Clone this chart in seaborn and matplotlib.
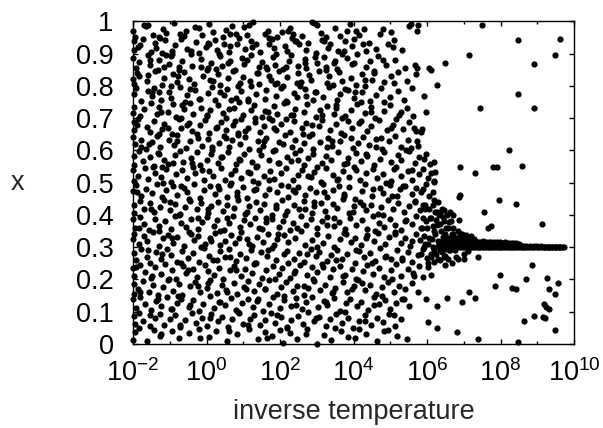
import pandas as pd
import matplotlib.pyplot as plt
import seaborn as sns
from matplotlib.ticker import FixedLocator, NullFormatter

# points as (log10 of inverse temperature, x)
cloud_top = [
    (-1.99, .97), (-1.94, .952), (-1.71, .99), (-1.66, .986), (-1.45, .958), (-1.18, .977), (-1.09, .963),
    (-0.88, .995), (-0.62, .954), (-0.57, .969), (-0.31, .982), (-0.12, .958), (0.08, .991), (0.17, .966),
    (0.44, .953), (0.52, .975), (0.81, .96), (1.03, .984), (1.09, .957), (1.27, .997), (1.58, .962),
    (1.66, .97), (1.93, .951), (2.26, .979), (2.35, .96), (2.61, .956), (2.86, .998), (2.92, .994),
    (3.11, .965), (3.24, .952), (3.49, .981), (3.83, .97), (3.9, .993), (4.16, .957), (4.28, .976),
    (4.71, .961), (4.79, .978), (5.03, .968), (5.5, .986), (5.56, .992), (-1.3, .951), (0.68, .985),
    (2.05, .968), (3.64, .955),
    (-1.98, .939), (-1.97, .912), (-1.8, .927), (-1.73, .945), (-1.52, .904), (-1.41, .933), (-1.37, .918),
    (-1.12, .942), (-0.93, .909), (-0.86, .928), (-0.7, .947), (-0.52, .915), (-0.28, .936), (-0.21, .903),
    (-0.02, .921), (0.22, .944), (0.29, .911), (0.47, .93), (0.6, .905), (0.64, .923), (0.88, .949),
    (1.05, .914), (1.2, .939), (1.24, .92), (1.46, .906), (1.71, .931), (1.79, .946), (1.84, .917),
    (2.13, .925), (2.19, .908), (2.44, .941), (2.53, .929), (2.72, .913), (2.76, .934), (2.99, .902),
    (3.15, .944), (3.31, .919), (3.37, .93), (3.58, .91), (3.76, .938), (3.95, .924), (4.02, .947),
    (4.33, .907), (4.41, .933), (4.62, .916), (4.94, .929), (5.1, .943), (5.31, .911), (0.05, .933),
    (-1.22, .901), (2.33, .949),
    (-1.99, .888), (-1.91, .856), (-1.84, .873), (-1.58, .895), (-1.55, .866), (-1.33, .851), (-1.29, .881),
    (-1.02, .869), (-0.96, .892), (-0.74, .858), (-0.66, .876), (-0.43, .899), (-0.39, .863), (-0.14, .884),
    (0.03, .855), (0.11, .872), (0.36, .893), (0.41, .861), (0.63, .879), (0.77, .851), (0.97, .886),
    (1.01, .867), (1.22, .897), (1.44, .858), (1.52, .874), (1.8, .889), (1.86, .865), (2.07, .853),
    (2.24, .878), (2.29, .896), (2.5, .862), (2.67, .883), (2.71, .857), (3.0, .871), (3.19, .891),
    (3.25, .86), (3.5, .877), (3.56, .854), (3.81, .887), (3.97, .868), (4.1, .898), (4.35, .859),
    (4.46, .876), (4.67, .893), (4.88, .866), (5.12, .882), (5.4, .857), (5.68, .866), (5.73, .855),
    (-1.1, .897), (0.25, .852), (1.65, .854), (3.7, .899),
    (-1.99, .823), (-1.96, .807), (-1.9, .841), (-1.63, .816), (-1.59, .834), (-1.4, .848), (-1.21, .803),
    (-1.15, .826), (-0.91, .838), (-0.81, .811), (-0.6, .844), (-0.47, .822), (-0.33, .806), (-0.09, .831),
    (0.0, .849), (0.19, .814), (0.32, .836), (0.37, .802), (0.58, .825), (0.72, .845), (0.9, .809),
    (1.0, .829), (1.17, .817), (1.38, .84), (1.42, .805), (1.69, .832), (1.76, .82), (1.97, .846),
    (2.09, .801), (2.2, .827), (2.48, .839), (2.58, .812), (2.8, .833), (2.83, .818), (3.05, .847),
    (3.28, .808), (3.33, .83), (3.6, .843), (3.69, .815), (3.93, .826), (4.07, .804), (4.24, .837),
    (4.51, .819), (4.57, .848), (4.82, .811), (5.01, .831), (5.22, .842), (5.45, .815), (-0.75, .849),
    (1.86, .807), (3.45, .803),
    (-1.97, .776), (-1.92, .795), (-1.78, .753), (-1.6, .785), (-1.47, .768), (-1.43, .793), (-1.24, .757),
    (-1.02, .781), (-0.97, .764), (-0.73, .797), (-0.58, .751), (-0.52, .773), (-0.3, .788), (-0.2, .76),
    (0.04, .779), (0.15, .797), (0.24, .755), (0.48, .771), (0.56, .79), (0.79, .762), (0.94, .784),
    (1.13, .753), (1.2, .799), (1.36, .775), (1.58, .761), (1.63, .787), (1.89, .769), (2.02, .794),
    (2.15, .752), (2.38, .777), (2.46, .765), (2.69, .792), (2.9, .756), (2.95, .78), (3.18, .767),
    (3.34, .796), (3.55, .758), (3.62, .774), (3.86, .789), (4.0, .762), (4.22, .781), (4.44, .753),
    (4.61, .772), (4.75, .794), (4.98, .765), (5.2, .786), (5.38, .758), (5.6, .795), (-1.3, .78),
    (0.66, .756), (2.55, .799), (4.3, .799),
]

cloud_upper = [
    (-1.99, .715), (-1.98, .736), (-1.81, .707), (-1.7, .729), (-1.5, .746), (-1.36, .712), (-1.29, .735),
    (-1.06, .72), (-0.92, .743), (-0.83, .704), (-0.61, .728), (-0.44, .747), (-0.37, .713), (-0.15, .733),
    (0.01, .706), (0.09, .724), (0.31, .741), (0.44, .716), (0.53, .701), (0.76, .731), (0.89, .749),
    (0.99, .71), (1.21, .727), (1.28, .742), (1.5, .705), (1.6, .721), (1.83, .737), (1.92, .714),
    (2.11, .748), (2.3, .709), (2.42, .729), (2.65, .719), (2.74, .744), (2.97, .703), (3.1, .726),
    (3.27, .739), (3.47, .712), (3.53, .733), (3.78, .707), (3.92, .725), (4.09, .745), (4.3, .715),
    (4.47, .736), (4.58, .702), (4.83, .723), (5.0, .741), (5.25, .711), (5.45, .731), (5.63, .708),
    (-0.7, .7), (1.7, .702), (4.2, .749),
    (-1.98, .688), (-1.96, .664), (-1.87, .699), (-1.62, .674), (-1.53, .656), (-1.44, .691), (-1.2, .668),
    (-1.16, .683), (-0.95, .652), (-0.76, .697), (-0.7, .671), (-0.48, .686), (-0.4, .66), (-0.18, .678),
    (-0.03, .695), (0.06, .655), (0.28, .672), (0.4, .689), (0.52, .663), (0.71, .68), (0.86, .653),
    (0.93, .698), (1.14, .669), (1.33, .687), (1.45, .658), (1.56, .676), (1.79, .694), (1.9, .662),
    (2.04, .681), (2.27, .657), (2.37, .692), (2.59, .67), (2.7, .684), (2.88, .651), (3.07, .675),
    (3.13, .696), (3.36, .664), (3.51, .682), (3.66, .654), (3.84, .69), (3.97, .67), (4.15, .686),
    (4.38, .659), (4.48, .677), (4.7, .695), (4.9, .663), (5.08, .68), (5.16, .699), (5.35, .667),
    (5.52, .688), (5.65, .671), (5.84, .658), (-1.3, .652), (2.15, .698),
    (-1.99, .641), (-1.95, .619), (-1.77, .633), (-1.66, .604), (-1.49, .626), (-1.34, .646), (-1.27, .612),
    (-1.01, .631), (-0.88, .617), (-0.8, .649), (-0.57, .607), (-0.46, .628), (-0.24, .64), (-0.11, .614),
    (0.04, .635), (0.16, .602), (0.35, .624), (0.47, .645), (0.62, .611), (0.7, .632), (0.92, .62),
    (1.06, .643), (1.16, .606), (1.39, .629), (1.55, .615), (1.63, .638), (1.85, .603), (1.97, .625),
    (2.14, .647), (2.33, .61), (2.42, .634), (2.66, .622), (2.79, .644), (2.91, .605), (3.09, .627),
    (3.3, .639), (3.41, .613), (3.62, .63), (3.73, .648), (3.98, .608), (4.11, .623), (4.26, .641),
    (4.41, .616), (4.6, .636), (4.77, .604), (4.97, .628), (5.12, .645), (5.3, .612), (5.48, .633),
    (5.57, .609), (5.73, .628), (0.85, .649), (2.55, .601),
    (-1.98, .556), (-1.96, .583), (-1.83, .597), (-1.74, .566), (-1.55, .579), (-1.43, .552), (-1.31, .591),
    (-1.17, .571), (-1.05, .559), (-0.87, .586), (-0.71, .599), (-0.63, .563), (-0.41, .577), (-0.27, .594),
    (-0.17, .554), (0.01, .569), (0.11, .588), (0.32, .561), (0.43, .58), (0.58, .596), (0.8, .557),
    (0.88, .574), (1.03, .59), (1.23, .565), (1.37, .553), (1.48, .585), (1.7, .572), (1.81, .598),
    (1.94, .561), (2.18, .581), (2.31, .567), (2.4, .593), (2.64, .555), (2.76, .578), (2.9, .589),
    (3.13, .562), (3.24, .583), (3.39, .57), (3.59, .596), (3.74, .558), (3.86, .576), (4.06, .591),
    (4.2, .566), (4.37, .582), (4.55, .555), (4.71, .573), (4.82, .594), (5.02, .564), (5.22, .587),
    (5.3, .571), (5.51, .598), (5.68, .56), (5.79, .581), (5.97, .59), (6.07, .557),
    (-1.99, .538), (-1.98, .506), (-1.86, .521), (-1.67, .547), (-1.58, .511), (-1.4, .531), (-1.25, .518),
    (-1.11, .543), (-0.98, .503), (-0.84, .526), (-0.66, .539), (-0.52, .514), (-0.37, .548), (-0.3, .529),
    (-0.06, .507), (0.07, .535), (0.18, .52), (0.39, .545), (0.5, .51), (0.67, .528), (0.77, .541),
    (0.95, .516), (1.12, .533), (1.26, .504), (1.35, .548), (1.56, .522), (1.72, .537), (1.84, .512),
    (2.03, .53), (2.16, .545), (2.35, .508), (2.49, .525), (2.6, .54), (2.84, .517), (2.93, .534),
    (3.11, .502), (3.26, .546), (3.43, .523), (3.57, .511), (3.72, .536), (3.89, .519), (4.0, .549),
    (4.19, .507), (4.33, .531), (4.52, .542), (4.63, .514), (4.81, .527), (5.01, .505), (5.1, .544),
    (5.29, .52), (5.47, .536), (5.6, .509), (5.77, .526), (5.88, .542), (6.02, .515), (6.12, .53),
    (6.18, .504), (-1.2, .55),
]

cloud_lower = [
    (-1.99, .474), (-1.92, .492), (-1.79, .458), (-1.65, .481), (-1.49, .467), (-1.36, .497), (-1.2, .455),
    (-1.1, .479), (-0.92, .489), (-0.81, .462), (-0.6, .485), (-0.53, .471), (-0.33, .496), (-0.19, .453),
    (-0.06, .477), (0.1, .49), (0.24, .466), (0.34, .482), (0.55, .457), (0.63, .494), (0.84, .47),
    (0.98, .486), (1.09, .452), (1.29, .476), (1.41, .499), (1.6, .463), (1.69, .481), (1.91, .47),
    (2.02, .493), (2.22, .455), (2.36, .478), (2.5, .488), (2.69, .461), (2.81, .484), (2.97, .472),
    (3.16, .497), (3.27, .456), (3.44, .479), (3.6, .491), (3.75, .464), (3.87, .486), (4.04, .451),
    (4.23, .474), (4.32, .496), (4.5, .46), (4.72, .483), (4.8, .469), (4.99, .493), (5.17, .458),
    (5.26, .48), (5.41, .489), (5.58, .465), (5.71, .483), (5.83, .471), (5.97, .495), (6.06, .46),
    (6.16, .47),
    (-1.98, .43), (-1.96, .405), (-1.82, .443), (-1.71, .418), (-1.53, .436), (-1.44, .409), (-1.26, .426),
    (-1.15, .448), (-0.99, .414), (-0.86, .433), (-0.71, .402), (-0.59, .424), (-0.45, .444), (-0.26, .419),
    (-0.15, .437), (0.03, .406), (0.12, .428), (0.3, .441), (0.46, .412), (0.57, .432), (0.74, .421),
    (0.86, .446), (1.04, .404), (1.15, .427), (1.34, .439), (1.46, .416), (1.57, .435), (1.78, .401),
    (1.9, .423), (2.06, .447), (2.2, .413), (2.38, .431), (2.52, .42), (2.66, .443), (2.86, .407),
    (2.92, .429), (3.12, .438), (3.22, .411), (3.44, .434), (3.56, .422), (3.71, .449), (3.89, .405),
    (4.02, .427), (4.17, .44), (4.33, .415), (4.48, .432), (4.66, .403), (4.74, .425), (4.93, .445),
    (5.07, .418), (5.22, .436), (5.38, .408), (5.52, .428), (5.66, .442), (5.8, .414), (5.94, .431),
    (6.05, .42), (6.18, .445), (6.27, .41), (6.36, .405),
    (-1.99, .386), (-1.94, .361), (-1.8, .395), (-1.69, .372), (-1.57, .353), (-1.41, .389), (-1.28, .367),
    (-1.14, .381), (-0.96, .357), (-0.87, .397), (-0.69, .374), (-0.55, .363), (-0.43, .388), (-0.23, .356),
    (-0.12, .379), (0.02, .393), (0.2, .366), (0.28, .384), (0.47, .354), (0.6, .376), (0.72, .398),
    (0.92, .362), (1.02, .383), (1.18, .371), (1.32, .392), (1.51, .358), (1.62, .378), (1.78, .387),
    (1.96, .364), (2.08, .382), (2.26, .353), (2.35, .375), (2.56, .396), (2.7, .368), (2.83, .386),
    (3.02, .359), (3.13, .38), (3.29, .394), (3.47, .365), (3.6, .377), (3.78, .355), (3.9, .39),
    (4.07, .37), (4.24, .383), (4.37, .357), (4.52, .397), (4.7, .374), (4.82, .362), (5.0, .388),
    (5.13, .369), (5.3, .352), (5.44, .384), (5.59, .373), (5.7, .396), (5.84, .36), (5.98, .38),
    (6.08, .39), (6.17, .365), (6.25, .385), (6.36, .372), (6.44, .395), (6.52, .36), (6.6, .378),
    (-1.99, .327), (-1.97, .342), (-1.83, .309), (-1.7, .334), (-1.61, .318), (-1.46, .346), (-1.3, .305),
    (-1.19, .328), (-1.04, .339), (-0.9, .314), (-0.79, .331), (-0.62, .303), (-0.49, .347), (-0.35, .322),
    (-0.22, .336), (-0.03, .311), (0.09, .329), (0.22, .344), (0.38, .306), (0.49, .32), (0.66, .337),
    (0.78, .313), (0.95, .348), (1.1, .326), (1.25, .304), (1.38, .333), (1.53, .317), (1.66, .342),
    (1.83, .308), (1.92, .325), (2.12, .338), (2.22, .315), (2.41, .33), (2.58, .349), (2.68, .307),
    (2.88, .321), (3.0, .341), (3.18, .312), (3.31, .334), (3.47, .302), (3.63, .324), (3.74, .345),
    (3.93, .316), (4.05, .329), (4.2, .307), (4.37, .338), (4.55, .32), (4.68, .343), (4.85, .31),
    (4.96, .332), (5.13, .347), (5.28, .314), (5.4, .328), (5.55, .305), (5.69, .34), (5.81, .322),
    (5.93, .335), (6.04, .31), (6.14, .325), (6.23, .342), (6.33, .315), (6.43, .333), (6.52, .306),
    (6.61, .328), (6.7, .34),
    (-1.98, .281), (-1.93, .259), (-1.77, .293), (-1.63, .27), (-1.54, .252), (-1.37, .286), (-1.25, .264),
    (-1.08, .296), (-0.97, .277), (-0.8, .255), (-0.68, .289), (-0.51, .268), (-0.38, .282), (-0.2, .253),
    (-0.08, .298), (0.07, .274), (0.17, .261), (0.36, .287), (0.49, .271), (0.61, .294), (0.8, .257),
    (0.9, .279), (1.07, .266), (1.2, .291), (1.35, .252), (1.47, .284), (1.64, .273), (1.79, .297),
    (1.88, .26), (2.1, .278), (2.2, .289), (2.39, .265), (2.52, .282), (2.64, .254), (2.83, .295),
    (2.98, .272), (3.07, .285), (3.28, .258), (3.4, .276), (3.56, .292), (3.7, .263), (3.82, .28),
    (4.03, .251), (4.15, .288), (4.29, .269), (4.45, .283), (4.59, .256), (4.73, .299), (4.88, .274),
    (5.03, .262), (5.19, .29), (5.32, .268), (5.48, .284), (5.6, .255), (5.76, .277), (5.89, .293),
    (6.0, .266), (6.1, .28), (6.2, .29), (6.3, .262), (6.4, .285), (6.5, .272), (6.6, .29),
]

cloud_bottom = [
    (-1.99, .236), (-1.96, .212), (-1.82, .245), (-1.68, .223), (-1.5, .205), (-1.39, .239), (-1.23, .217),
    (-1.13, .248), (-0.94, .229), (-0.83, .203), (-0.64, .241), (-0.57, .219), (-0.36, .233), (-0.25, .208),
    (-0.05, .246), (0.05, .226), (0.2, .214), (0.33, .237), (0.46, .202), (0.64, .228), (0.75, .243),
    (0.93, .21), (1.05, .232), (1.23, .221), (1.3, .247), (1.52, .206), (1.61, .23), (1.8, .242),
    (1.96, .216), (2.05, .235), (2.27, .204), (2.4, .227), (2.55, .244), (2.73, .213), (2.86, .238),
    (3.01, .222), (3.15, .249), (3.35, .207), (3.45, .231), (3.63, .243), (3.77, .215), (3.95, .234),
    (4.06, .201), (4.25, .225), (4.36, .245), (4.54, .218), (4.7, .236), (4.84, .209), (5.02, .229),
    (5.16, .247), (5.3, .212), (5.49, .233), (5.62, .221), (5.79, .242), (5.9, .208), (6.02, .24),
    (6.1, .215),
    (-1.98, .186), (-1.97, .156), (-1.86, .171), (-1.73, .194), (-1.57, .16), (-1.46, .182), (-1.31, .153),
    (-1.18, .176), (-1.06, .197), (-0.9, .165), (-0.75, .185), (-0.66, .152), (-0.44, .179), (-0.31, .193),
    (-0.17, .162), (0.01, .175), (0.09, .198), (0.29, .157), (0.41, .183), (0.53, .168), (0.74, .19),
    (0.83, .154), (1.03, .177), (1.14, .194), (1.3, .163), (1.43, .186), (1.59, .17), (1.71, .199),
    (1.92, .155), (2.02, .178), (2.17, .192), (2.36, .164), (2.47, .181), (2.64, .151), (2.77, .174),
    (2.93, .196), (3.08, .166), (3.23, .184), (3.41, .158), (3.5, .173), (3.71, .191), (3.82, .16),
    (4.01, .18), (4.13, .197), (4.3, .167), (4.46, .184), (4.6, .155), (4.78, .176), (4.93, .193),
    (5.1, .162), (5.23, .18), (5.4, .17), (5.58, .19), (5.75, .16),
    (-1.99, .138), (-1.92, .113), (-1.8, .146), (-1.67, .124), (-1.5, .104), (-1.38, .133), (-1.25, .118),
    (-1.08, .147), (-0.95, .109), (-0.8, .128), (-0.69, .141), (-0.48, .116), (-0.36, .135), (-0.2, .102),
    (-0.09, .125), (0.09, .148), (0.2, .111), (0.37, .13), (0.5, .121), (0.67, .144), (0.79, .106),
    (0.96, .127), (1.12, .139), (1.26, .115), (1.38, .132), (1.55, .101), (1.7, .123), (1.82, .145),
    (1.99, .112), (2.12, .136), (2.3, .119), (2.43, .142), (2.59, .107), (2.7, .129), (2.88, .147),
    (3.03, .114), (3.2, .134), (3.29, .122), (3.48, .143), (3.62, .103), (3.79, .126), (3.9, .14),
    (4.09, .117), (4.21, .131), (4.4, .105), (4.57, .146), (4.69, .124), (4.87, .136), (5.0, .11),
    (5.16, .128), (5.32, .14), (5.5, .118),
    (-1.98, .087), (-1.95, .063), (-1.84, .096), (-1.72, .071), (-1.54, .055), (-1.41, .082), (-1.27, .094),
    (-1.16, .06), (-0.99, .077), (-0.86, .089), (-0.71, .052), (-0.58, .074), (-0.4, .097), (-0.29, .066),
    (-0.13, .081), (0.0, .057), (0.13, .092), (0.31, .07), (0.43, .084), (0.59, .054), (0.7, .076),
    (0.88, .095), (0.99, .061), (1.17, .079), (1.28, .09), (1.45, .058), (1.6, .073), (1.75, .096),
    (1.87, .065), (2.03, .083), (2.19, .053), (2.29, .075), (2.5, .088), (2.62, .062), (2.76, .099),
    (2.92, .071), (3.06, .085), (3.24, .056), (3.37, .078), (3.52, .093), (3.7, .064), (3.84, .082),
    (3.98, .051), (4.16, .072), (4.3, .091), (4.47, .06), (4.64, .08), (4.81, .067), (4.97, .094),
    (5.12, .056), (5.3, .078),
    (-1.99, .012), (-1.94, .038), (-1.62, .01), (-1.44, .044), (-1.27, .026), (-0.93, .041), (-0.75, .018),
    (-0.49, .033), (-0.2, .047), (0.08, .022), (0.27, .039), (0.57, .008), (0.84, .031), (1.15, .045),
    (1.39, .015), (1.6, .036), (1.79, .024), (2.01, .042), (2.09, .003), (2.27, .033), (2.45, .017),
    (2.74, .046), (3.02, .001), (3.21, .028), (3.38, .012), (3.66, .04), (3.86, .021), (4.15, .047),
    (4.35, .03), (4.65, .008), (4.93, .043), (5.18, .025), (5.46, .014),
]

# more of the cloud, picked column by column
cloud_cols = [
    (-1.85, .05), (-1.8, .16), (-1.91, .24), (-1.83, .36), (-1.88, .47), (-1.79, .61), (-1.9, .68),
    (-1.84, .83), (-1.87, .92), (-1.55, .09), (-1.49, .21), (-1.58, .29), (-1.5, .42), (-1.45, .55),
    (-1.56, .62), (-1.47, .78), (-1.53, .88), (-1.6, .99), (-1.25, .03), (-1.31, .14), (-1.22, .28),
    (-1.28, .35), (-1.19, .5), (-1.3, .59), (-1.24, .72), (-1.17, .86), (-1.27, .95), (-0.98, .11),
    (-1.03, .2), (-0.95, .33), (-1.0, .44), (-0.92, .56), (-1.05, .67), (-0.97, .8), (-0.94, .9),
    (-0.72, .06), (-0.78, .15), (-0.69, .25), (-0.75, .4), (-0.7, .49), (-0.8, .63), (-0.68, .74),
    (-0.77, .83), (-0.73, .96), (-0.44, .12), (-0.5, .23), (-0.41, .34), (-0.47, .45), (-0.39, .56),
    (-0.52, .68), (-0.45, .79), (-0.42, .91), (-0.18, .02), (-0.24, .18), (-0.15, .3), (-0.22, .39),
    (-0.13, .54), (-0.26, .65), (-0.19, .76), (-0.16, .86), (-0.2, .98), (0.09, .08), (0.03, .19),
    (0.12, .32), (0.05, .42), (0.14, .61), (0.0, .71), (0.1, .82), (0.06, .93), (0.35, .13),
    (0.29, .26), (0.38, .35), (0.31, .49), (0.4, .58), (0.27, .67), (0.36, .78), (0.33, .9),
    (0.6, .04), (0.55, .16), (0.63, .27), (0.57, .39), (0.66, .5), (0.52, .64), (0.61, .73),
    (0.58, .87), (0.64, .96), (0.86, .1), (0.8, .23), (0.89, .33), (0.83, .46), (0.92, .57),
    (0.78, .69), (0.87, .8), (0.84, .93), (1.13, .06), (1.07, .17), (1.16, .31), (1.09, .41),
    (1.18, .53), (1.04, .66), (1.14, .76), (1.1, .88), (1.15, .99), (1.39, .14), (1.33, .25),
    (1.42, .36), (1.35, .48), (1.44, .6), (1.31, .7), (1.4, .84), (1.36, .93), (1.65, .02),
    (1.59, .17), (1.68, .29), (1.61, .39), (1.7, .51), (1.56, .63), (1.66, .72), (1.62, .86),
    (1.69, .95), (1.92, .09), (1.86, .2), (1.95, .34), (1.88, .43), (1.97, .56), (1.83, .67),
    (1.93, .81), (1.89, .9), (2.18, .05), (2.12, .15), (2.21, .25), (2.14, .4), (2.23, .49),
    (2.09, .62), (2.19, .75), (2.15, .86), (2.22, .97), (2.44, .12), (2.38, .22), (2.47, .36),
    (2.4, .47), (2.49, .57), (2.35, .71), (2.45, .81), (2.41, .94), (2.71, .03), (2.65, .18),
    (2.74, .28), (2.67, .42), (2.76, .52), (2.62, .65), (2.72, .77), (2.68, .87), (2.97, .08),
    (2.91, .2), (3.0, .3), (2.93, .44), (3.02, .55), (2.88, .68), (2.98, .78), (2.94, .89),
    (3.01, .99), (3.24, .13), (3.18, .24), (3.27, .37), (3.2, .47), (3.29, .61), (3.15, .71),
    (3.25, .85), (3.21, .94), (3.5, .05), (3.44, .16), (3.53, .26), (3.46, .39), (3.55, .51),
    (3.41, .63), (3.51, .74), (3.47, .87), (3.77, .1), (3.71, .21), (3.8, .34), (3.73, .46),
    (3.82, .56), (3.68, .7), (3.78, .79), (3.74, .91), (4.03, .02), (3.97, .17), (4.06, .29),
    (3.99, .41), (4.08, .54), (3.94, .64), (4.04, .78), (4.0, .87), (4.07, .97), (4.3, .07),
    (4.24, .19), (4.33, .33), (4.26, .43), (4.35, .59), (4.21, .69), (4.31, .82), (4.27, .93),
    (4.56, .12), (4.5, .25), (4.59, .35), (4.52, .48), (4.61, .61), (4.47, .72), (4.57, .84),
    (4.83, .04), (4.77, .15), (4.86, .27), (4.79, .4), (4.88, .5), (4.74, .64), (4.84, .75),
    (4.8, .88), (5.1, .09), (5.04, .2), (5.13, .34), (5.06, .46), (5.15, .55), (5.01, .67),
    (5.11, .81), (5.07, .92), (5.38, .14), (5.32, .26), (5.41, .38), (5.34, .49), (5.43, .6),
    (5.29, .72), (5.64, .21), (5.58, .32), (5.67, .44), (5.6, .54), (5.69, .66), (5.92, .3),
    (5.86, .36), (5.95, .42), (5.88, .48),
]

# the knot where the points start to settle, around 1e6
funnel = [
    (6.0, .36), (6.05, .33), (6.1, .39), (6.15, .30), (6.2, .35), (6.22, .41), (6.25, .28), (6.28, .37),
    (6.3, .32), (6.33, .40), (6.36, .29), (6.38, .35), (6.4, .42), (6.42, .31), (6.45, .38), (6.47, .27),
    (6.5, .34), (6.52, .30), (6.55, .40), (6.57, .36), (6.6, .32), (6.62, .29), (6.65, .38), (6.67, .34),
    (6.7, .31), (6.72, .36), (6.75, .29), (6.78, .33), (6.8, .31), (6.83, .35), (6.86, .30), (6.88, .32),
    (6.9, .34), (6.93, .305), (6.96, .33), (6.1, .27), (6.2, .255), (6.35, .26), (6.48, .245), (6.58, .265),
    (6.68, .25), (6.15, .43), (6.3, .44), (6.45, .415), (5.9, .39), (5.95, .31), (5.85, .28), (6.02, .25),
    (5.88, .43), (6.62, .41), (6.72, .40), (6.78, .27), (6.85, .265), (7.0, .28),
    (6.3, .305), (6.35, .315), (6.4, .295), (6.45, .325), (6.5, .31), (6.55, .295), (6.6, .315), (6.65, .30),
    (6.7, .325), (6.75, .305), (6.8, .32), (6.85, .33), (6.9, .315), (6.95, .325), (7.0, .33), (7.05, .32),
]

# the converged line near x = 0.3
band = [
    (6.92, .301), (6.97, .300), (7.03, .301), (7.08, .300), (7.12, .301), (7.18, .300), (7.23, .301),
    (7.27, .300), (7.33, .300), (7.38, .301), (7.42, .300), (7.48, .300), (7.53, .301), (7.57, .300),
    (7.63, .300), (7.68, .301), (7.72, .300), (7.78, .300), (7.83, .300), (7.87, .301), (7.93, .300),
    (7.98, .300), (8.02, .300), (8.08, .301), (8.13, .300), (8.17, .300), (8.23, .300), (8.28, .300),
    (8.32, .301), (8.38, .300), (8.43, .300), (8.47, .300), (8.53, .300), (8.58, .300), (8.62, .300),
    (8.68, .300), (8.73, .300), (8.77, .300), (8.83, .300), (8.88, .300), (8.92, .300), (8.98, .300),
    (9.03, .300), (9.07, .300), (9.13, .300), (9.18, .300), (9.22, .300), (9.28, .300), (9.33, .300),
    (9.37, .300), (9.43, .300), (9.48, .300), (9.52, .300), (9.58, .300), (9.63, .300), (9.67, .300),
    (9.72, .300),
    (6.95, .311), (7.02, .308), (7.1, .31), (7.17, .307), (7.25, .309), (7.32, .31), (7.4, .308),
    (7.47, .309), (7.55, .31), (7.62, .307), (7.7, .309), (7.77, .308), (7.85, .31), (7.92, .307),
    (8.0, .309), (8.07, .308), (8.15, .31), (8.22, .307), (8.3, .308), (8.37, .306), (8.45, .307),
    (8.52, .306), (8.6, .305), (8.7, .304), (8.8, .304), (8.9, .303), (9.0, .303), (9.1, .303),
    (9.2, .302), (9.3, .302), (9.4, .302), (9.5, .301), (9.6, .301),
    (6.93, .322), (7.0, .318), (7.08, .317), (7.15, .319), (7.22, .316), (7.3, .318), (7.38, .317),
    (7.45, .316), (7.53, .318), (7.6, .316), (7.68, .317), (7.75, .315), (7.83, .316), (7.9, .315),
    (7.98, .316), (8.05, .314), (8.13, .315), (8.2, .314), (8.28, .313), (8.35, .314), (8.43, .312),
    (8.5, .311),
    (6.92, .335), (6.98, .33), (7.04, .332), (7.1, .327), (7.16, .329), (7.22, .325), (7.28, .326),
    (6.95, .341), (7.06, .338), (7.19, .334),
]

# sparse points at the edge of the cloud and the far outliers
fringe = [
    (5.92, .769), (5.97, .718), (6.05, .856), (6.12, .851), (6.28, .802), (5.69, .836), (6.18, .503),
    (6.21, .533), (6.18, .564), (5.87, .667), (5.76, .615), (5.92, .574), (6.49, .872), (5.97, .138),
    (6.28, .118), (6.02, .067), (6.28, .051), (6.55, .144), (5.76, .99), (5.73, .97),
]
tail = [
    (7.49, .989), (7.15, .897), (8.48, .944), (8.90, .869), (9.63, .947), (9.47, .897), (8.48, .776),
    (8.90, .733), (7.44, .733), (8.22, .600), (8.58, .551), (7.80, .549), (7.91, .549), (6.91, .549),
    (7.31, .531), (7.96, .446), (8.43, .434), (7.54, .410), (6.91, .462), (7.75, .365), (9.14, .372),
    (6.88, .457), (6.88, .383), (7.66, .36),
    (7.12, .287), (7.38, .269), (7.02, .265), (8.85, .246), (7.99, .215), (7.85, .179), (8.32, .174),
    (8.43, .172), (8.69, .203), (9.27, .205), (9.56, .190), (9.32, .172), (9.47, .156), (7.15, .162),
    (7.31, .142), (6.96, .131), (9.18, .125), (9.23, .115), (9.33, .108), (8.90, .087), (9.16, .084),
    (9.21, .080), (8.64, .072), (6.81, .036), (7.38, .017), (8.48, .005), (9.47, .043),
]

groups = [cloud_top, cloud_upper, cloud_lower, cloud_bottom, cloud_cols, funnel, band, fringe, tail]
df = pd.DataFrame([p for g in groups for p in g], columns=['logT', 'x'])
df['T'] = 10.0 ** df['logT']

sns.set_style('ticks')
plt.rcParams['font.family'] = ['Liberation Sans', 'DejaVu Sans']
plt.rcParams['mathtext.fontset'] = 'custom'
plt.rcParams['mathtext.rm'] = 'Liberation Sans'
plt.rcParams['axes.unicode_minus'] = False

fig = plt.figure(figsize=(6.03, 4.28), dpi=100)
ax = fig.add_axes([0.2206, 0.1963, 0.7313, 0.7535])

sns.scatterplot(data=df, x='T', y='x', color='black', s=20, linewidth=0,
                legend=False, ax=ax, clip_on=False, zorder=3)

ax.set_xscale('log')
ax.set_xlim(1e-2, 1e10)
ax.set_ylim(0, 1)
ax.set_xticks([10.0 ** k for k in range(-2, 11, 2)])
ax.xaxis.set_minor_locator(FixedLocator([10.0 ** k for k in range(-1, 10, 2)]))
ax.xaxis.set_minor_formatter(NullFormatter())
ax.set_yticks([i / 10 for i in range(11)])
ax.set_yticklabels(['0'] + ['0.%d' % i for i in range(1, 10)] + ['1'])

ax.tick_params(which='major', direction='in', top=True, right=True,
               length=3.6, width=1, color='black', labelsize=19.5, labelcolor='black')
ax.tick_params(which='minor', direction='in', top=True, right=True,
               length=2.2, width=1, color='black')
ax.tick_params(axis='x', which='major', pad=11)
ax.tick_params(axis='y', pad=14)
for s in ax.spines.values():
    s.set_linewidth(1)
    s.set_color('black')

ax.set_xlabel('inverse temperature', fontsize=19.5, va='top')
ax.xaxis.set_label_coords(0.5, -0.17)
ax.set_ylabel('x', fontsize=19.5, rotation=0, va='center', ha='center')
ax.yaxis.set_label_coords(-0.263, 0.5)

fig.savefig('out.png', dpi=100)
